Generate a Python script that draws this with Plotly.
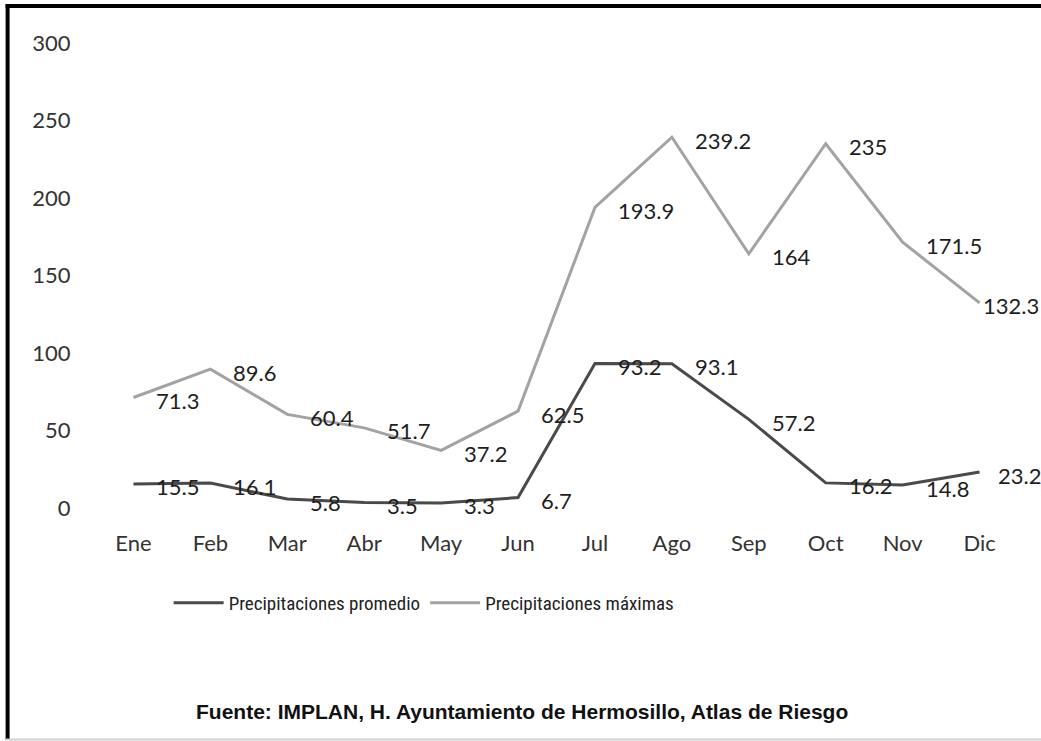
import plotly.graph_objects as go

months = ["Ene", "Feb", "Mar", "Abr", "May", "Jun", "Jul", "Ago", "Sep", "Oct", "Nov", "Dic"]
promedio = [15.5, 16.1, 5.8, 3.5, 3.3, 6.7, 93.2, 93.1, 57.2, 16.2, 14.8, 23.2]
maximas = [71.3, 89.6, 60.4, 51.7, 37.2, 62.5, 193.9, 239.2, 164, 235, 171.5, 132.3]
y_ticks = [0, 50, 100, 150, 200, 250, 300]

W, H = 1041, 741
L, R, T, B = 94.5, 1018.5, 43, 508

def px(xp):
    return (xp - L) / (R - L)

def py(yp):
    return (B - yp) / (B - T)

label_font = dict(family="Lato, Carlito, sans-serif", size=22, color="#1e1e1e")
tick_font = dict(family="Lato, Carlito, sans-serif", size=22, color="#333333")

fig = go.Figure()
fig.add_trace(go.Scatter(x=months, y=promedio, mode="lines", name="Precipitaciones promedio",
                         line=dict(color="#4a4a4a", width=3), hoverinfo="skip"))
fig.add_trace(go.Scatter(x=months, y=maximas, mode="lines", name="Precipitaciones máximas",
                         line=dict(color="#a3a3a3", width=3), hoverinfo="skip"))

annotations = []
for series, last_shift in ((promedio, 16), (maximas, 1)):
    n = len(series)
    for i, (m, v) in enumerate(zip(months, series)):
        annotations.append(dict(x=m, y=v, xref="x", yref="y", text=f"{v:g}",
                                showarrow=False, xanchor="left", yanchor="middle",
                                xshift=(last_shift if i == n - 1 else 21), yshift=-3,
                                font=label_font))

annotations.append(dict(x=px(522), y=py(711), xref="paper", yref="paper",
                        text="<b>Fuente:</b> <b>IMPLAN, H. Ayuntamiento de Hermosillo, Atlas de Riesgo</b>",
                        showarrow=False, xanchor="center", yanchor="middle",
                        font=dict(family="Liberation Sans, Arial, sans-serif", size=21, color="#111111")))

shapes = [
    dict(type="line", xref="paper", yref="paper", x0=px(5), x1=px(1045), y0=py(6), y1=py(6),
         line=dict(color="#000000", width=4)),
    dict(type="line", xref="paper", yref="paper", x0=px(7), x1=px(7), y0=py(4), y1=py(740),
         line=dict(color="#000000", width=4)),
    dict(type="line", xref="paper", yref="paper", x0=px(5), x1=px(1045), y0=py(739.5), y1=py(739.5),
         line=dict(color="#d0d0d0", width=2)),
]

fig.update_layout(
    width=W, height=H,
    margin=dict(l=L, r=W - R, t=T, b=H - B),
    paper_bgcolor="white", plot_bgcolor="white",
    showlegend=True,
    legend=dict(orientation="h", x=px(424), y=py(603), xanchor="center", yanchor="middle",
                font=dict(family="Liberation Sans Narrow, Roboto Condensed, sans-serif", size=19, color="#222222"),
                itemwidth=50, bgcolor="rgba(0,0,0,0)", tracegroupgap=0),
    xaxis=dict(type="category", range=[-0.5, 11.5], showgrid=False, showline=False, zeroline=False,
               ticks="outside", ticklen=16, tickcolor="rgba(0,0,0,0)", tickfont=tick_font),
    yaxis=dict(range=[0, 300], tickvals=y_ticks, showgrid=False, showline=False, zeroline=False,
               ticks="outside", ticklen=19, tickcolor="rgba(0,0,0,0)", tickfont=tick_font),
    annotations=annotations,
    shapes=shapes,
)

fig.write_html("out.html", config={"displayModeBar": False},
               post_script="document.body.style.margin='0px';document.body.style.overflow='hidden';")
